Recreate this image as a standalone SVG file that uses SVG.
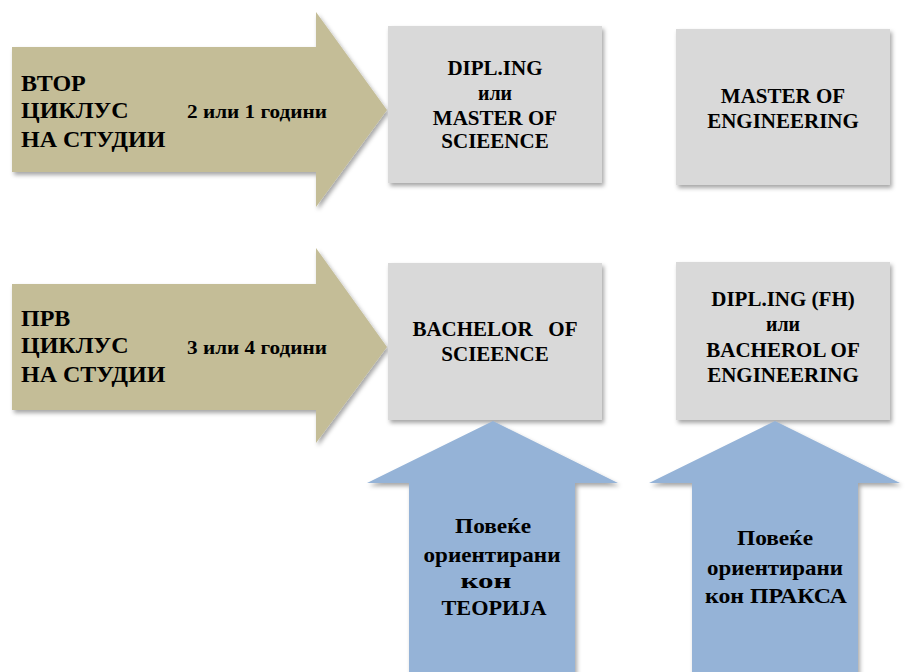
<svg xmlns="http://www.w3.org/2000/svg" width="909" height="672" viewBox="0 0 909 672">
<defs>
<filter id="sh" x="-10%" y="-10%" width="130%" height="130%">
<feDropShadow dx="2" dy="3" stdDeviation="2" flood-color="#000" flood-opacity="0.35"/>
</filter>
</defs>
<style>
text{font-family:'Liberation Serif','DejaVu Serif',serif;font-weight:bold;fill:#000}
.big{font-size:24px}
.mid{font-size:21px}
.cy{font-size:22px}
.sm{font-size:19.5px}
.ili{font-size:20px}
.tan{fill:#C4BD97;filter:url(#sh)}
.box{fill:#D9D9D9;filter:url(#sh)}
.blue{fill:#95B3D7;filter:url(#sh)}
</style>
<rect width="909" height="672" fill="#fff"/>
<g id="connectors">
<g id="arrow-second-cycle">
<polygon class="tan" points="12,47 316,47 316,12 387,110 316,207 316,172 12,172"/>
<text class="big" x="21" y="91">ВТОР</text>
<text class="big" x="21" y="118">ЦИКЛУС</text>
<text class="big" x="21" y="147">НА СТУДИИ</text>
<text class="sm" x="187" y="118" textLength="140" lengthAdjust="spacingAndGlyphs">2 или 1 години</text>
</g>
<g id="arrow-first-cycle">
<polygon class="tan" points="12,284 316,284 316,248 387,347 316,443 316,410 12,410"/>
<text class="big" x="21" y="326">ПРВ</text>
<text class="big" x="21" y="353">ЦИКЛУС</text>
<text class="big" x="21" y="382">НА СТУДИИ</text>
<text class="sm" x="187" y="354" textLength="140" lengthAdjust="spacingAndGlyphs">3 или 4 години</text>
</g>
</g>
<g id="box-master-science">
<rect class="box" x="388" y="26" width="214" height="157"/>
<text class="mid" text-anchor="middle" x="495" y="75">DIPL.ING</text>
<text class="ili" text-anchor="middle" x="495" y="100" textLength="34" lengthAdjust="spacingAndGlyphs">или</text>
<text class="mid" text-anchor="middle" x="495" y="125">MASTER OF</text>
<text class="mid" text-anchor="middle" x="495" y="148">SCIEENCE</text>
</g>
<g id="box-master-engineering">
<rect class="box" x="676" y="29" width="214" height="156"/>
<text class="mid" text-anchor="middle" x="783" y="103">MASTER OF</text>
<text class="mid" text-anchor="middle" x="783" y="128">ENGINEERING</text>
</g>
<g id="box-bachelor-science">
<rect class="box" x="388" y="263" width="214" height="157"/>
<text class="mid" text-anchor="middle" x="495" y="336" xml:space="preserve">BACHELOR   OF</text>
<text class="mid" text-anchor="middle" x="495" y="361">SCIEENCE</text>
</g>
<g id="box-bachelor-engineering">
<rect class="box" x="676" y="262" width="214" height="158"/>
<text class="mid" text-anchor="middle" x="783" y="306">DIPL.ING (FH)</text>
<text class="ili" text-anchor="middle" x="783" y="331" textLength="34" lengthAdjust="spacingAndGlyphs">или</text>
<text class="mid" text-anchor="middle" x="783" y="357">BACHEROL OF</text>
<text class="mid" text-anchor="middle" x="783" y="382">ENGINEERING</text>
</g>
<g id="arrow-theory">
<polygon class="blue" points="493,421 618,483 575,483 575,680 409,680 409,483 367,483"/>
<text class="cy" text-anchor="middle" x="493" y="533" textLength="76" lengthAdjust="spacingAndGlyphs">Повеќе</text>
<text class="cy" text-anchor="middle" x="492" y="562" textLength="137" lengthAdjust="spacingAndGlyphs">ориентирани</text>
<text class="cy" text-anchor="middle" x="486" y="588" textLength="51" lengthAdjust="spacingAndGlyphs">кон</text>
<text class="cy" text-anchor="middle" x="494" y="615" textLength="105" lengthAdjust="spacingAndGlyphs">ТЕОРИЈА</text>
</g>
<g id="arrow-practice">
<polygon class="blue" points="775,421 900,483 858,483 858,680 692,680 692,483 649,483"/>
<text class="cy" text-anchor="middle" x="775" y="545" textLength="76" lengthAdjust="spacingAndGlyphs">Повеќе</text>
<text class="cy" text-anchor="middle" x="775" y="575" textLength="136" lengthAdjust="spacingAndGlyphs">ориентирани</text>
<text class="cy" text-anchor="middle" x="776" y="603" textLength="142" lengthAdjust="spacingAndGlyphs">кон ПРАКСА</text>
</g>
</svg>
